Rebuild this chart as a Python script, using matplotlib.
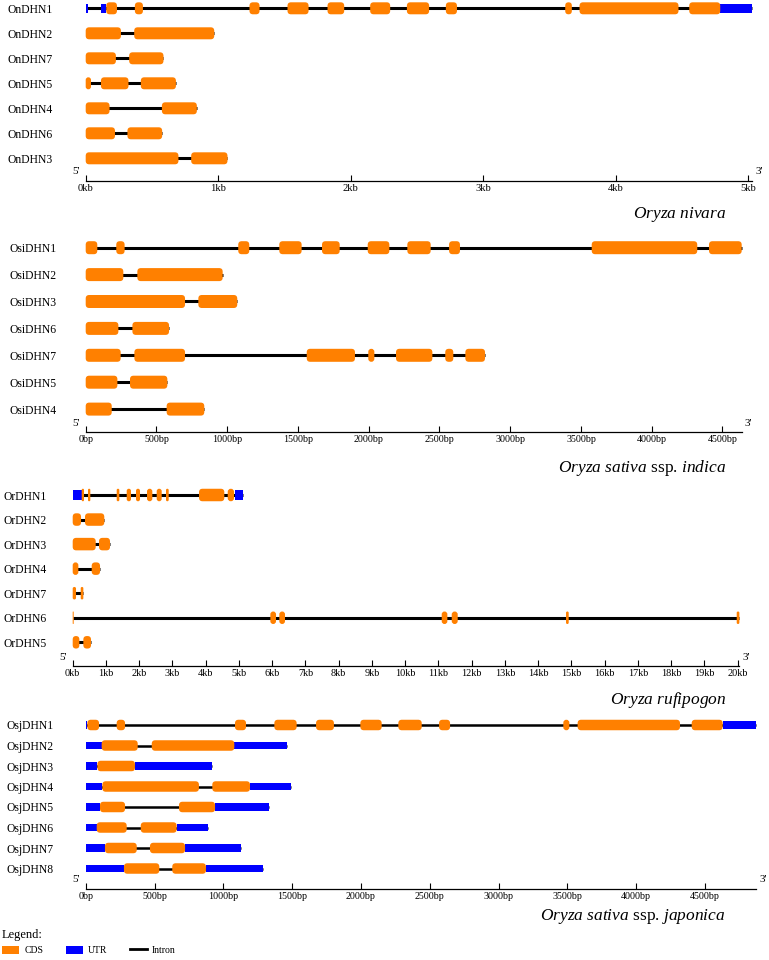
import matplotlib.pyplot as plt
from matplotlib.patches import FancyBboxPatch, Patch
from matplotlib.lines import Line2D

plt.rcParams['font.family'] = ['Liberation Serif', 'DejaVu Serif']
plt.rcParams['mathtext.fontset'] = 'custom'
plt.rcParams['mathtext.rm'] = 'Liberation Serif'
plt.rcParams['mathtext.it'] = 'Liberation Serif:italic'

CDS_COLOR = '#ff8000'
UTR_COLOR = '#0000ff'

# ---- Oryza nivara (positions in bp) ----
niv_names = ['OnDHN1', 'OnDHN2', 'OnDHN7', 'OnDHN5', 'OnDHN4', 'OnDHN6', 'OnDHN3']
niv_cds = [
    [(155, 236), (371, 432), (1236, 1312), (1523, 1682), (1825, 1951), (2147, 2298),
     (2424, 2592), (2718, 2802), (3619, 3669), (3727, 4474), (4555, 4789)],
    [(0, 266), (366, 970)],
    [(0, 228), (328, 587)],
    [(0, 40), (115, 323), (416, 681)],
    [(0, 180), (575, 839)],
    [(0, 221), (315, 577)],
    [(0, 700), (796, 1070)],
]
niv_utr = [[(0, 14), (117, 155), (4789, 5028)], [], [], [], [], [], []]

# ---- Oryza sativa ssp. indica ----
ind_names = ['OsiDHN1', 'OsiDHN2', 'OsiDHN3', 'OsiDHN6', 'OsiDHN7', 'OsiDHN5', 'OsiDHN4']
ind_cds = [
    [(0, 82), (216, 275), (1078, 1156), (1368, 1526), (1670, 1795), (1993, 2146),
     (2273, 2438), (2568, 2645), (3576, 4322), (4405, 4636)],
    [(0, 266), (365, 968)],
    [(0, 702), (796, 1071)],
    [(0, 231), (330, 589)],
    [(0, 247), (344, 702), (1562, 1903), (1997, 2040), (2193, 2450), (2541, 2598), (2683, 2822)],
    [(0, 224), (313, 577)],
    [(0, 184), (572, 838)],
]
ind_utr = [[], [], [], [], [], [], []]

# ---- Oryza rufipogon ----
ruf_names = ['OrDHN1', 'OrDHN2', 'OrDHN3', 'OrDHN4', 'OrDHN7', 'OrDHN6', 'OrDHN5']
ruf_cds = [
    [(271, 340), (460, 530), (1323, 1403), (1624, 1753), (1904, 2024), (2235, 2395),
     (2526, 2677), (2806, 2887), (3799, 4560), (4662, 4852)],
    [(0, 251), (370, 950)],
    [(0, 692), (791, 1122)],
    [(0, 170), (571, 822)],
    [(0, 100), (241, 320)],
    [(0, 30), (5944, 6115), (6214, 6385), (11098, 11268), (11399, 11579),
     (14837, 14917), (19970, 20050)],
    [(0, 200), (320, 551)],
]
ruf_utr = [[(0, 271), (4882, 5133)], [], [], [], [], [], []]

# ---- Oryza sativa ssp. japonica ----
jap_names = ['OsjDHN1', 'OsjDHN2', 'OsjDHN3', 'OsjDHN4', 'OsjDHN5', 'OsjDHN6', 'OsjDHN7', 'OsjDHN8']
jap_cds = [
    [(12, 97), (225, 286), (1085, 1165), (1371, 1533), (1674, 1804), (1996, 2151),
     (2272, 2442), (2568, 2648), (3471, 3515), (3575, 4319), (4404, 4629)],
    [(116, 378), (480, 1080)],
    [(85, 358)],
    [(121, 823), (920, 1194)],
    [(104, 286), (678, 940)],
    [(80, 298), (400, 661)],
    [(140, 371), (467, 722)],
    [(278, 535), (629, 874)],
]
jap_utr = [
    [(0, 12), (4629, 4871)],
    [(0, 116), (1080, 1461)],
    [(0, 85), (358, 920)],
    [(0, 121), (1194, 1492)],
    [(0, 104), (940, 1334)],
    [(0, 80), (661, 887)],
    [(0, 140), (722, 1126)],
    [(0, 278), (874, 1291)],
]

kb_ticks5 = list(range(0, 5001, 1000))
kb_labels5 = ['%dkb' % (t // 1000) for t in kb_ticks5]
bp_ticks = list(range(0, 4501, 500))
bp_labels = ['%dbp' % t for t in bp_ticks]
kb_ticks20 = list(range(0, 20001, 1000))
kb_labels20 = ['%dkb' % (t // 1000) for t in kb_ticks20]

W, H = 769, 960
fig = plt.figure(figsize=(W / 100, H / 100), dpi=100)


def draw_panel(names, cds, utr, ticks, labels, title, x0, ppb, row0, step, axis_y,
               xmax, title_y, cds_h, lw, tick_fs, label_pad):
    top = row0 - 0.4 * step
    ax = fig.add_axes([x0 / W, 1 - axis_y / H, xmax * ppb / W, (axis_y - top) / H])
    ax.set_xlim(0, xmax)
    ax.set_ylim((axis_y - row0) / step, -0.4)
    aspect = ppb / step
    h = cds_h / step
    uh = h * 0.75
    for i, name in enumerate(names):
        feats = cds[i] + utr[i]
        start = min(f[0] for f in feats)
        end = max(f[1] for f in feats)
        ax.hlines(i, start, end, color='black', lw=lw, zorder=1, clip_on=False)
        for s, e in utr[i]:
            ax.barh(i, e - s, left=s, height=uh, color=UTR_COLOR, zorder=2, clip_on=False)
        for s, e in cds[i]:
            w = e - s
            r = min(3.5 / ppb, w / 2, h / aspect / 2)
            ax.add_patch(FancyBboxPatch((s, i - h / 2), w, h,
                                        boxstyle='round,pad=0,rounding_size=%f' % r,
                                        mutation_aspect=aspect, fc=CDS_COLOR, ec='none',
                                        zorder=3, clip_on=False))
    ax.set_yticks(range(len(names)), names)
    ax.tick_params(axis='y', length=0, pad=label_pad, labelsize=8.4)
    for t in ax.get_yticklabels():
        t.set_horizontalalignment('left')
    ax.set_xticks(ticks, labels)
    ax.tick_params(axis='x', direction='in', length=4, width=0.8, pad=2.5,
                   labelsize=tick_fs)
    for s in ['top', 'right', 'left']:
        ax.spines[s].set_visible(False)
    ax.spines['bottom'].set_linewidth(0.9)
    ax.patch.set_alpha(0)
    ax.annotate("5'", xy=(0, 0), xycoords='axes fraction', xytext=(-10, 9),
                textcoords='offset pixels', ha='center', va='center', fontsize=8)
    ax.annotate("3'", xy=(1, 0), xycoords='axes fraction', xytext=(7, 9),
                textcoords='offset pixels', ha='center', va='center', fontsize=8)
    fig.text(726 / W, 1 - title_y / H, title, ha='right', va='center', fontsize=12.5)
    return ax


draw_panel(niv_names, niv_cds, niv_utr, kb_ticks5, kb_labels5, r'$\mathit{Oryza\ nivara}$',
           85.7, 0.1325, 8.3, 25.0, 181, 5030, 214, 12, 2.2, 7.6, 56)
draw_panel(ind_names, ind_cds, ind_utr, bp_ticks, bp_labels,
           r'$\mathit{Oryza\ sativa}$ ssp. $\mathit{indica}$',
           85.7, 0.1415, 247.7, 26.9, 432, 4636, 468, 13, 2.2, 7.2, 55)
draw_panel(ruf_names, ruf_cds, ruf_utr, kb_ticks20, kb_labels20, r'$\mathit{Oryza\ rufipogon}$',
           72.7, 0.03325, 495, 24.55, 666, 20050, 700, 12.5, 2.2, 7.4, 50)
draw_panel(jap_names, jap_cds, jap_utr, bp_ticks, bp_labels,
           r'$\mathit{Oryza\ sativa}$ ssp. $\mathit{japonica}$',
           85.7, 0.1376, 725, 20.5, 888.7, 4871, 917, 10.5, 1.8, 7.2, 57)

handles = [Patch(facecolor=CDS_COLOR, edgecolor='none'),
           Patch(facecolor=UTR_COLOR, edgecolor='none'),
           Line2D([0], [0], color='black', lw=2)]
fig.legend(handles, ['CDS', 'UTR', 'Intron'], loc='upper left',
           bbox_to_anchor=(0.0, 1 - 927 / H), ncol=3, frameon=False,
           title='Legend:', title_fontsize=9, fontsize=7, alignment='left',
           handlelength=1.8, handleheight=0.9, handletextpad=0.5, columnspacing=2.3,
           borderpad=0.2, borderaxespad=0)

fig.savefig('out.png', dpi=100)
